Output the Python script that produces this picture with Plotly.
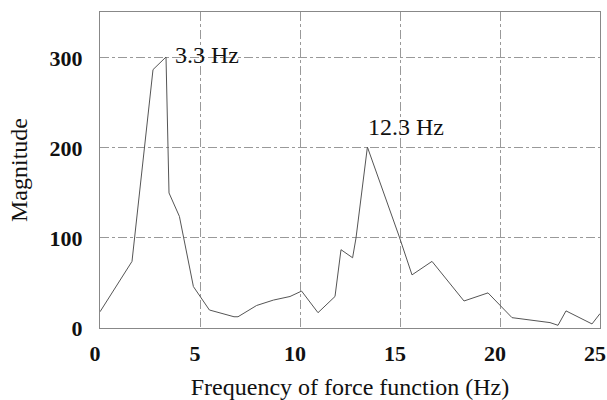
import plotly.graph_objects as go

freq = [0, 1.6, 2.65, 3.3, 3.45, 3.97, 4.67, 5.47, 6.7, 6.9, 7.83, 8.67, 9.5, 10.08,
        10.9, 11.75, 12.05, 12.63, 12.8, 13.37, 14.97, 15.6, 16.6, 18.2, 19.4, 20.6,
        22.5, 22.9, 23.3, 24.6, 25]
magnitude = [18, 74, 287, 301, 150, 124, 46, 20, 12.5, 12.5, 25, 31, 35, 41,
             17, 35, 87, 78, 100, 201, 101, 59, 74, 30, 39, 11.5,
             6, 3, 19, 4.5, 16]
x_ticks = [0, 5, 10, 15, 20, 25]
y_ticks = [0, 100, 200, 300]
peak_labels = ["3.3 Hz", "12.3 Hz"]
peak_label_pos = [(3.65, 303), (13.3, 223)]

FONT = "Liberation Serif, Times New Roman, serif"

fig = go.Figure()
fig.add_trace(go.Scatter(x=freq, y=magnitude, mode="lines",
                         line=dict(color="#555555", width=1), showlegend=False))

for txt, (px, py) in zip(peak_labels, peak_label_pos):
    fig.add_annotation(x=px, y=py, text=txt, showarrow=False, xanchor="left",
                       yanchor="middle", font=dict(family=FONT, size=24, color="#111"))

axis_common = dict(
    showline=True, linecolor="#888888", linewidth=1, mirror=True,
    showgrid=True, gridcolor="#999999", griddash="dashdot", gridwidth=1,
    zeroline=False, ticks="", automargin=False,
    tickfont=dict(family=FONT, size=22, color="#111", weight="bold"),
    title_font=dict(family=FONT, size=24, color="#111"),
)

fig.update_xaxes(range=[0, 25], tickvals=x_ticks, ticklabelstandoff=6,
                 ticklabelshift=-5,
                 title_text="Frequency of force function (Hz)", **axis_common)
fig.update_yaxes(range=[0, 351], tickvals=y_ticks, ticklabelstandoff=12,
                 title_text="Magnitude", **axis_common)

fig.update_layout(width=607, height=400,
                  margin=dict(l=100, r=7, t=12, b=72),
                  paper_bgcolor="white", plot_bgcolor="white")

fig.write_html("out.html",
               config={"displayModeBar": False},
               post_script="document.body.style.margin='0px';"
                           "document.body.style.overflow='hidden';")
